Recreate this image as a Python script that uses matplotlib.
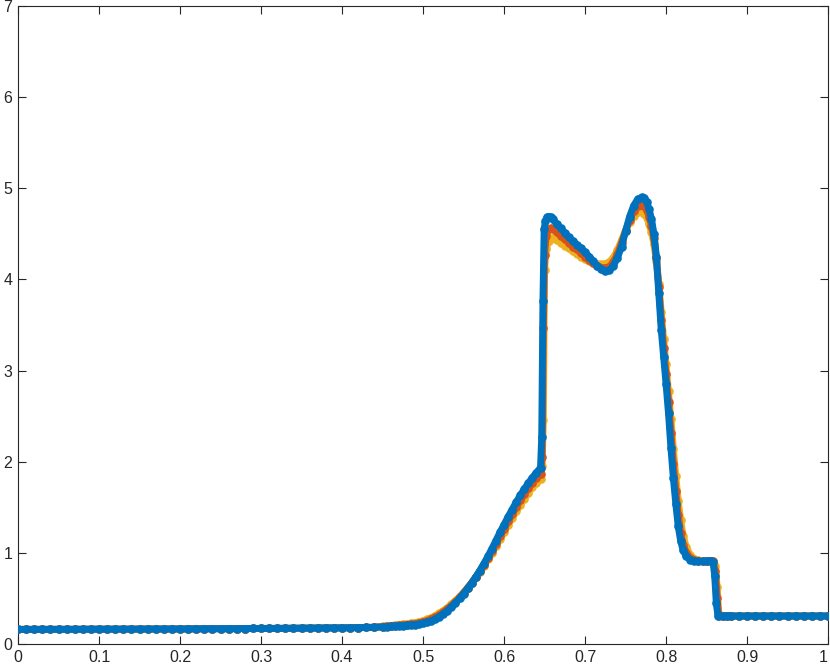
import numpy as np
import matplotlib.pyplot as plt

# ---------- data ----------
# left and right states, where the three runs lie on top of each other
x_left = [0.00, 0.01, 0.02, 0.03, 0.04, 0.05, 0.06, 0.07, 0.08, 0.09,
          0.10, 0.11, 0.12, 0.13, 0.14, 0.15, 0.16, 0.17, 0.18, 0.19,
          0.20, 0.21, 0.22, 0.23, 0.24, 0.25, 0.26, 0.27, 0.28, 0.29,
          0.30, 0.31, 0.32, 0.33, 0.34, 0.35, 0.36, 0.37, 0.38, 0.39,
          0.40, 0.41, 0.42, 0.43, 0.44]
rho_left = [0.160, 0.160, 0.160, 0.160, 0.161, 0.161, 0.161, 0.161, 0.162, 0.162,
            0.162, 0.162, 0.163, 0.163, 0.163, 0.164, 0.164, 0.164, 0.165, 0.165,
            0.165, 0.166, 0.166, 0.167, 0.167, 0.168, 0.168, 0.169, 0.169, 0.170,
            0.170, 0.171, 0.171, 0.172, 0.173, 0.173, 0.174, 0.175, 0.176, 0.176,
            0.177, 0.178, 0.179, 0.181, 0.183]

x_right = [0.875, 0.88, 0.89, 0.90, 0.91, 0.92, 0.93, 0.94, 0.95, 0.96, 0.97, 0.98, 0.99, 1.00]
rho_right = [0.307] * 14

# blue run (drawn on top)
x_blue = [0.450, 0.455, 0.460, 0.465, 0.470, 0.475, 0.480, 0.485, 0.490, 0.495,
          0.500, 0.505, 0.510, 0.515, 0.520, 0.525, 0.530, 0.535, 0.540, 0.545,
          0.550, 0.555, 0.560, 0.565, 0.570, 0.575, 0.580, 0.585, 0.590, 0.595,
          0.600, 0.605, 0.610, 0.615, 0.620, 0.625, 0.630, 0.635, 0.640, 0.645,
          0.6465, 0.648, 0.6495, 0.651, 0.653, 0.655, 0.658, 0.660, 0.665, 0.670,
          0.675, 0.680, 0.685, 0.690, 0.695, 0.700, 0.705, 0.710, 0.715, 0.720,
          0.725, 0.730, 0.735, 0.740, 0.745, 0.750, 0.755, 0.760, 0.765, 0.770,
          0.773, 0.776, 0.779, 0.782, 0.785, 0.788, 0.791, 0.794, 0.797, 0.800,
          0.803, 0.806, 0.809, 0.812, 0.815, 0.818, 0.821, 0.825, 0.830, 0.835,
          0.840, 0.845, 0.850, 0.855, 0.858, 0.860, 0.862, 0.864, 0.870]
rho_blue = [0.186, 0.189, 0.192, 0.196, 0.199, 0.202, 0.205, 0.208, 0.212, 0.218,
            0.226, 0.238, 0.254, 0.274, 0.300, 0.330, 0.366, 0.406, 0.450, 0.500,
            0.553, 0.610, 0.670, 0.735, 0.805, 0.880, 0.960, 1.045, 1.135, 1.225,
            1.310, 1.395, 1.475, 1.555, 1.630, 1.700, 1.765, 1.825, 1.880, 1.935,
            2.27, 3.76, 4.55, 4.64, 4.68, 4.69, 4.68, 4.66, 4.61, 4.56,
            4.51, 4.46, 4.42, 4.38, 4.34, 4.30, 4.25, 4.20, 4.15, 4.11,
            4.09, 4.10, 4.15, 4.24, 4.36, 4.53, 4.69, 4.81, 4.88, 4.90,
            4.89, 4.85, 4.77, 4.66, 4.50, 4.25, 3.85, 3.45, 3.15, 2.85,
            2.53, 2.15, 1.82, 1.54, 1.29, 1.13, 1.03, 0.96, 0.925, 0.91,
            0.905, 0.905, 0.91, 0.915, 0.90, 0.75, 0.45, 0.31, 0.307]

# orange run
x_orange = [0.450, 0.455, 0.460, 0.465, 0.470, 0.475, 0.480, 0.485, 0.490, 0.495,
            0.500, 0.505, 0.510, 0.515, 0.520, 0.525, 0.530, 0.535, 0.540, 0.545,
            0.550, 0.555, 0.560, 0.565, 0.570, 0.575, 0.580, 0.585, 0.590, 0.595,
            0.600, 0.605, 0.610, 0.615, 0.620, 0.625, 0.630, 0.635, 0.640, 0.645,
            0.647, 0.6485, 0.650, 0.652, 0.655, 0.658, 0.660, 0.665, 0.670, 0.675,
            0.680, 0.685, 0.690, 0.695, 0.700, 0.705, 0.710, 0.715, 0.720, 0.725,
            0.730, 0.735, 0.740, 0.745, 0.750, 0.755, 0.760, 0.765, 0.770, 0.773,
            0.776, 0.779, 0.782, 0.785, 0.788, 0.791, 0.794, 0.797, 0.800, 0.803,
            0.806, 0.809, 0.812, 0.815, 0.818, 0.821, 0.825, 0.830, 0.835, 0.840,
            0.845, 0.850, 0.855, 0.858, 0.861, 0.863, 0.865, 0.870]
rho_orange = [0.190, 0.193, 0.197, 0.201, 0.205, 0.209, 0.213, 0.218, 0.224, 0.232,
              0.243, 0.257, 0.274, 0.295, 0.320, 0.350, 0.384, 0.422, 0.464, 0.510,
              0.560, 0.614, 0.671, 0.732, 0.797, 0.866, 0.940, 1.018, 1.100, 1.183,
              1.265, 1.345, 1.423, 1.500, 1.575, 1.645, 1.710, 1.770, 1.820, 1.865,
              2.05, 3.47, 4.27, 4.48, 4.55, 4.56, 4.55, 4.52, 4.48, 4.44,
              4.40, 4.36, 4.33, 4.29, 4.25, 4.21, 4.18, 4.15, 4.13, 4.125,
              4.14, 4.19, 4.28, 4.40, 4.53, 4.65, 4.75, 4.81, 4.82, 4.80,
              4.76, 4.69, 4.59, 4.45, 4.24, 3.92, 3.56, 3.25, 2.96, 2.66,
              2.32, 1.98, 1.68, 1.42, 1.22, 1.09, 1.00, 0.945, 0.92, 0.91,
              0.905, 0.905, 0.91, 0.905, 0.80, 0.50, 0.31, 0.307]

# yellow run
x_yellow = [0.450, 0.455, 0.460, 0.465, 0.470, 0.475, 0.480, 0.485, 0.490, 0.495,
            0.500, 0.505, 0.510, 0.515, 0.520, 0.525, 0.530, 0.535, 0.540, 0.545,
            0.550, 0.555, 0.560, 0.565, 0.570, 0.575, 0.580, 0.585, 0.590, 0.595,
            0.600, 0.605, 0.610, 0.615, 0.620, 0.625, 0.630, 0.635, 0.640, 0.645,
            0.647, 0.6485, 0.650, 0.652, 0.655, 0.658, 0.660, 0.665, 0.670, 0.675,
            0.680, 0.685, 0.690, 0.695, 0.700, 0.705, 0.710, 0.715, 0.720, 0.725,
            0.730, 0.735, 0.740, 0.745, 0.750, 0.755, 0.760, 0.765, 0.770, 0.773,
            0.776, 0.779, 0.782, 0.785, 0.788, 0.791, 0.794, 0.797, 0.800, 0.803,
            0.806, 0.809, 0.812, 0.815, 0.818, 0.821, 0.825, 0.830, 0.835, 0.840,
            0.845, 0.850, 0.855, 0.858, 0.861, 0.863, 0.865, 0.870]
rho_yellow = [0.194, 0.198, 0.202, 0.206, 0.211, 0.216, 0.221, 0.227, 0.234, 0.243,
              0.255, 0.270, 0.288, 0.310, 0.335, 0.364, 0.397, 0.434, 0.474, 0.518,
              0.566, 0.618, 0.673, 0.731, 0.793, 0.858, 0.927, 1.000, 1.076, 1.153,
              1.230, 1.307, 1.382, 1.455, 1.527, 1.595, 1.660, 1.720, 1.770, 1.810,
              1.95, 2.46, 4.10, 4.33, 4.42, 4.45, 4.45, 4.43, 4.40, 4.37,
              4.34, 4.31, 4.28, 4.25, 4.22, 4.20, 4.18, 4.17, 4.165, 4.17,
              4.19, 4.24, 4.32, 4.43, 4.54, 4.63, 4.70, 4.74, 4.74, 4.72,
              4.68, 4.61, 4.52, 4.39, 4.20, 3.95, 3.64, 3.35, 3.07, 2.78,
              2.47, 2.14, 1.84, 1.57, 1.36, 1.19, 1.06, 0.975, 0.935, 0.92,
              0.91, 0.905, 0.905, 0.905, 0.86, 0.62, 0.33, 0.307]

x_ticks = [0, 0.1, 0.2, 0.3, 0.4, 0.5, 0.6, 0.7, 0.8, 0.9, 1]
x_ticklabels = ['0', '0.1', '0.2', '0.3', '0.4', '0.5', '0.6', '0.7', '0.8', '0.9', '1']
y_ticks = [0, 1, 2, 3, 4, 5, 6, 7]

# ---------- plot ----------
plt.rcParams['font.family'] = ['Liberation Sans', 'DejaVu Sans']

fig = plt.figure(figsize=(8.3, 6.72), dpi=100)
ax = fig.add_axes([0.0217, 0.0417, 0.976, 0.9494])

series = [
    (x_yellow, rho_yellow, '#EDB120'),
    (x_orange, rho_orange, '#D95319'),
    (x_blue, rho_blue, '#0072BD'),
]
for k, (xs, ys, col) in enumerate(series):
    xx = np.concatenate([x_left, xs, x_right])
    yy = np.concatenate([rho_left, ys, rho_right])
    ax.plot(xx, yy, '-', color=col, lw=5.0, marker='o', ms=6.2,
            markeredgewidth=0, solid_joinstyle='round', solid_capstyle='round',
            zorder=2 + k)

ax.set_xlim(0, 1)
ax.set_ylim(0, 7)
ax.set_xticks(x_ticks)
ax.set_xticklabels(x_ticklabels)
ax.set_yticks(y_ticks)

axcol = '#262626'
for sp in ax.spines.values():
    sp.set_color(axcol)
    sp.set_linewidth(0.8)
ax.tick_params(direction='in', length=6, width=0.8, color=axcol,
               labelcolor=axcol, labelsize=11.5, top=True, right=True, pad=4)

# keep the last x label inside the figure
ax.get_xticklabels()[-1].set_horizontalalignment('right')

fig.savefig('out.png', dpi=100)
